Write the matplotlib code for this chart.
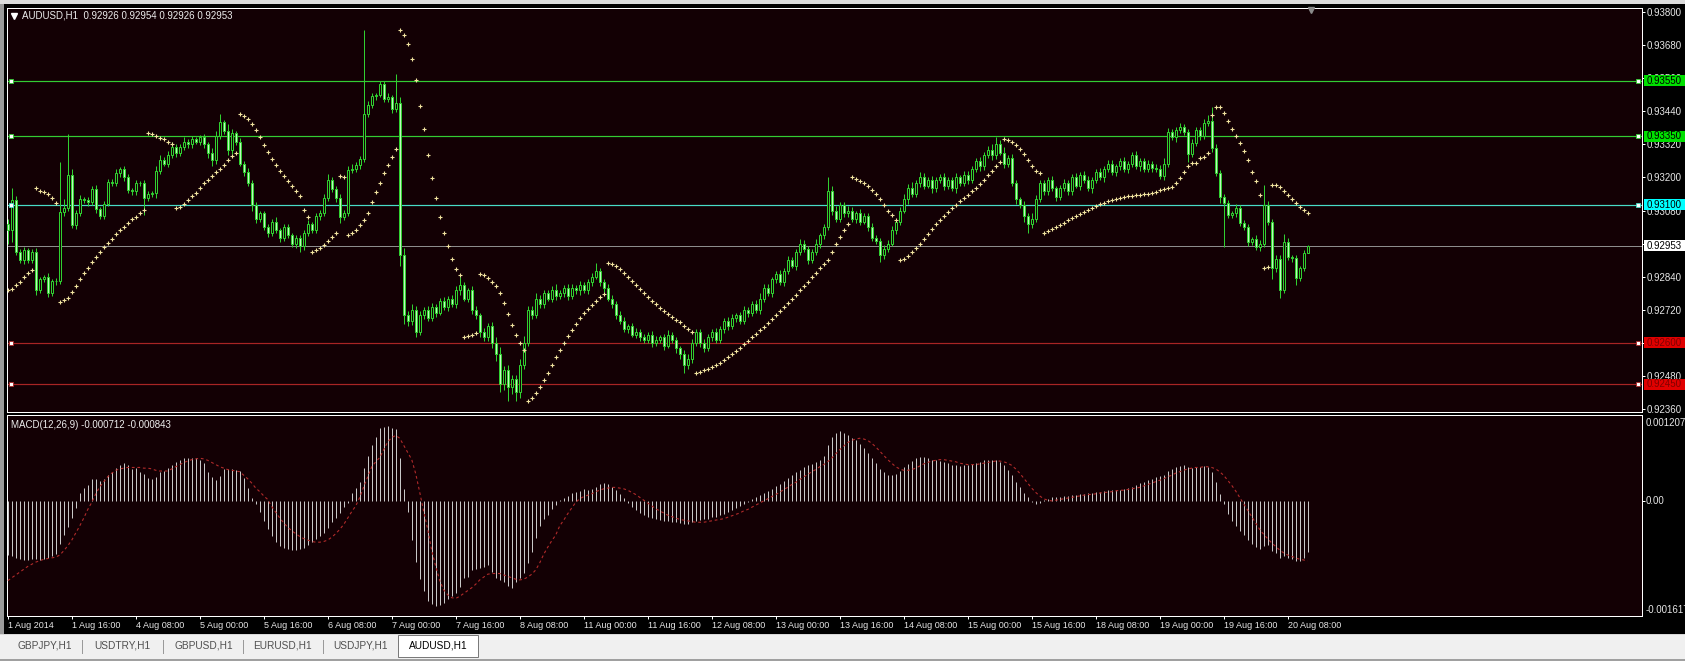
import numpy as np
import matplotlib
matplotlib.use('Agg')
import matplotlib.pyplot as plt
from matplotlib.patches import Rectangle
from matplotlib.lines import Line2D

plt.rcParams['font.family'] = ['Liberation Sans', 'DejaVu Sans']

# ---- data (AUDUSD H1, 1 Aug 2014 - 20 Aug 2014) ----
first_open = 0.93030
close = [
    0.93009, 0.93118, 0.92929, 0.92900, 0.92935, 0.92900, 0.92930, 0.92792, 0.92830, 0.92840,
    0.92780, 0.92825, 0.92823, 0.93075, 0.93090, 0.93209, 0.93027, 0.93071, 0.93122, 0.93118,
    0.93110, 0.93158, 0.93085, 0.93060, 0.93105, 0.93183, 0.93180, 0.93216, 0.93230, 0.93200,
    0.93155, 0.93150, 0.93180, 0.93178, 0.93125, 0.93140, 0.93142, 0.93225, 0.93263, 0.93250,
    0.93280, 0.93310, 0.93290, 0.93310, 0.93330, 0.93320, 0.93340, 0.93330, 0.93345, 0.93320,
    0.93290, 0.93265, 0.93350, 0.93400, 0.93370, 0.93300, 0.93360, 0.93330, 0.93250, 0.93220,
    0.93180, 0.93100, 0.93050, 0.93070, 0.93020, 0.93000, 0.93040, 0.93010, 0.92980, 0.93020,
    0.92990, 0.92960, 0.92980, 0.92950, 0.93000, 0.93030, 0.93010, 0.93060, 0.93071, 0.93125,
    0.93191, 0.93158, 0.93125, 0.93056, 0.93071, 0.93227, 0.93230, 0.93245, 0.93267, 0.93430,
    0.93463, 0.93495, 0.93500, 0.93539, 0.93484, 0.93490, 0.93448, 0.93470, 0.92920, 0.92700,
    0.92680, 0.92720, 0.92640, 0.92700, 0.92720, 0.92690, 0.92730, 0.92710, 0.92750, 0.92730,
    0.92760, 0.92740, 0.92790, 0.92810, 0.92760, 0.92790, 0.92720, 0.92700, 0.92640, 0.92620,
    0.92660, 0.92600, 0.92560, 0.92450, 0.92500, 0.92440, 0.92470, 0.92420, 0.92520, 0.92600,
    0.92720, 0.92700, 0.92760, 0.92740, 0.92780, 0.92760, 0.92790, 0.92770, 0.92780, 0.92800,
    0.92770, 0.92800, 0.92790, 0.92810, 0.92790, 0.92820, 0.92840, 0.92860, 0.92820, 0.92800,
    0.92760, 0.92740, 0.92700, 0.92680, 0.92650, 0.92660, 0.92630, 0.92640, 0.92620, 0.92610,
    0.92630, 0.92600, 0.92610, 0.92620, 0.92590, 0.92630, 0.92610, 0.92580, 0.92560, 0.92520,
    0.92540, 0.92600, 0.92640, 0.92600, 0.92580, 0.92620, 0.92640, 0.92610, 0.92650, 0.92680,
    0.92660, 0.92690, 0.92700, 0.92680, 0.92720, 0.92710, 0.92740, 0.92720, 0.92760, 0.92800,
    0.92780, 0.92830, 0.92850, 0.92820, 0.92860, 0.92900, 0.92880, 0.92930, 0.92960, 0.92940,
    0.92900, 0.92930, 0.92960, 0.92990, 0.93020, 0.93150, 0.93080, 0.93050, 0.93100, 0.93070,
    0.93080, 0.93050, 0.93070, 0.93040, 0.93060, 0.93020, 0.92980, 0.92970, 0.92920, 0.92940,
    0.92960, 0.93010, 0.93040, 0.93080, 0.93120, 0.93160, 0.93140, 0.93180, 0.93200, 0.93170,
    0.93190, 0.93160, 0.93190, 0.93200, 0.93170, 0.93190, 0.93160, 0.93200, 0.93180, 0.93210,
    0.93190, 0.93230, 0.93260, 0.93240, 0.93280, 0.93300, 0.93280, 0.93320, 0.93290, 0.93250,
    0.93270, 0.93180, 0.93120, 0.93100, 0.93060, 0.93030, 0.93050, 0.93120, 0.93180, 0.93150,
    0.93190, 0.93160, 0.93130, 0.93160, 0.93180, 0.93150, 0.93200, 0.93170, 0.93210, 0.93190,
    0.93160, 0.93190, 0.93220, 0.93200, 0.93230, 0.93250, 0.93220, 0.93240, 0.93260, 0.93230,
    0.93250, 0.93280, 0.93240, 0.93260, 0.93230, 0.93250, 0.93235, 0.93230, 0.93205, 0.93249,
    0.93365, 0.93345, 0.93372, 0.93383, 0.93365, 0.93285, 0.93325, 0.93372, 0.93350, 0.93397,
    0.93405, 0.93307, 0.93216, 0.93129, 0.93107, 0.93064, 0.93070, 0.93089, 0.93035, 0.93020,
    0.92966, 0.92975, 0.92948, 0.92960, 0.93100, 0.93038, 0.92871, 0.92905, 0.92792, 0.92966,
    0.92910, 0.92908, 0.92835, 0.92870, 0.92926, 0.92953,
]
# wick lengths beyond the candle body, in points (0.00001)
wick_up = [
    20, 44, 15, 10, 12, 8, 10, 15, 10, 6, 12, 8, 10, 181, 30, 147, 20, 10, 15, 8,
    10, 12, 15, 8, 10, 12, 10, 15, 8, 10, 12, 8, 10, 6, 12, 10, 8, 15, 20, 12,
    15, 20, 10, 12, 15, 10, 12, 8, 10, 12, 10, 15, 20, 30, 10, 25, 15, 10, 12, 10,
    15, 10, 12, 8, 10, 12, 10, 15, 8, 10, 12, 8, 10, 12, 10, 15, 8, 10, 12, 15,
    20, 10, 12, 15, 10, 15, 20, 10, 12, 305, 15, 10, 8, 12, 10, 15, 10, 105, 20, 25,
    15, 20, 12, 15, 10, 12, 15, 10, 12, 15, 10, 12, 15, 30, 12, 10, 15, 12, 10, 15,
    12, 15, 20, 25, 15, 20, 15, 12, 20, 25, 15, 12, 20, 15, 10, 12, 15, 25, 12, 10,
    15, 12, 10, 15, 12, 10, 15, 30, 12, 10, 15, 12, 10, 15, 12, 10, 12, 15, 10, 12,
    10, 12, 15, 10, 12, 15, 10, 12, 10, 15, 20, 15, 12, 10, 15, 12, 10, 15, 12, 10,
    12, 15, 10, 12, 15, 10, 12, 15, 20, 12, 15, 10, 12, 15, 10, 15, 12, 10, 15, 12,
    10, 12, 15, 10, 12, 50, 20, 15, 12, 10, 15, 12, 10, 15, 12, 10, 15, 12, 10, 15,
    12, 15, 10, 12, 20, 15, 25, 12, 20, 15, 12, 15, 10, 12, 15, 10, 12, 15, 10, 12,
    15, 12, 10, 15, 12, 15, 20, 25, 15, 20, 10, 15, 12, 10, 15, 12, 20, 15, 12, 10,
    12, 15, 10, 12, 15, 10, 12, 15, 10, 12, 15, 10, 12, 15, 10, 12, 15, 10, 12, 15,
    10, 12, 15, 10, 12, 15, 10, 12, 15, 20, 15, 12, 10, 15, 12, 10, 15, 12, 10, 15,
    20, 50, 15, 12, 10, 12, 10, 15, 12, 10, 12, 10, 15, 12, 72, 15, 10, 12, 15, 29,
    15, 10, 12, 10, 12, 1,
]
wick_dn = [
    50, 43, 12, 10, 15, 10, 12, 20, 12, 8, 15, 10, 12, 10, 15, 12, 10, 15, 12, 10,
    12, 10, 15, 12, 10, 8, 12, 10, 15, 12, 10, 12, 15, 10, 60, 12, 10, 15, 12, 10,
    12, 10, 15, 12, 10, 15, 12, 10, 12, 15, 20, 25, 15, 10, 12, 20, 15, 12, 10, 15,
    12, 20, 15, 12, 10, 15, 12, 10, 15, 12, 10, 12, 15, 20, 15, 12, 10, 12, 15, 10,
    12, 10, 15, 20, 12, 10, 12, 10, 15, 12, 10, 12, 15, 10, 12, 10, 15, 12, 40, 30,
    20, 15, 20, 12, 15, 10, 12, 15, 10, 12, 15, 10, 12, 15, 10, 12, 15, 12, 20, 15,
    12, 20, 25, 30, 20, 50, 25, 30, 20, 15, 12, 15, 10, 12, 15, 10, 12, 15, 10, 12,
    15, 10, 12, 15, 10, 12, 15, 10, 12, 15, 10, 12, 15, 10, 12, 15, 10, 12, 15, 10,
    12, 15, 10, 12, 15, 10, 12, 15, 20, 30, 15, 12, 10, 15, 12, 10, 15, 12, 10, 15,
    12, 10, 15, 12, 10, 15, 12, 10, 15, 12, 10, 15, 12, 10, 15, 12, 10, 15, 12, 10,
    15, 12, 10, 15, 12, 10, 15, 12, 10, 15, 12, 10, 15, 12, 10, 15, 12, 10, 25, 15,
    12, 10, 15, 12, 10, 15, 12, 10, 15, 12, 10, 15, 12, 10, 15, 12, 10, 15, 12, 10,
    15, 12, 10, 15, 12, 10, 15, 12, 10, 15, 12, 10, 15, 12, 20, 30, 15, 12, 10, 15,
    12, 10, 15, 12, 10, 15, 12, 10, 15, 12, 10, 15, 12, 10, 15, 12, 10, 15, 12, 10,
    15, 12, 10, 15, 12, 10, 15, 12, 10, 15, 12, 10, 15, 12, 10, 30, 12, 10, 15, 12,
    10, 15, 12, 20, 161, 12, 10, 15, 12, 10, 15, 12, 10, 15, 12, 10, 40, 15, 30, 12,
    10, 15, 25, 12, 10, 0,
]
sar = [
    0.92792, 0.92795, 0.92810, 0.92821, 0.92839, 0.92853, 0.92864, 0.93161, 0.93152, 0.93146,
    0.93139, 0.93124, 0.93108, 0.92749, 0.92754, 0.92761, 0.92785, 0.92807, 0.92830, 0.92852,
    0.92870, 0.92892, 0.92910, 0.92928, 0.92947, 0.92961, 0.92976, 0.92994, 0.93008, 0.93019,
    0.93034, 0.93048, 0.93058, 0.93070, 0.93081, 0.93360, 0.93356, 0.93350, 0.93344, 0.93338,
    0.93330, 0.93320, 0.93088, 0.93094, 0.93102, 0.93117, 0.93133, 0.93145, 0.93161, 0.93178,
    0.93192, 0.93205, 0.93218, 0.93230, 0.93245, 0.93262, 0.93278, 0.93290, 0.93430, 0.93424,
    0.93412, 0.93395, 0.93372, 0.93345, 0.93318, 0.93292, 0.93268, 0.93245, 0.93224, 0.93204,
    0.93186, 0.93168, 0.93150, 0.93132, 0.93082, 0.93058, 0.92930, 0.92936, 0.92945, 0.92955,
    0.92968, 0.92985, 0.93000, 0.93205, 0.93200, 0.92990, 0.92998, 0.93010, 0.93028, 0.93045,
    0.93072, 0.93110, 0.93146, 0.93181, 0.93215, 0.93245, 0.93274, 0.93302, 0.93735, 0.93717,
    0.93684, 0.93628, 0.93553, 0.93459, 0.93375, 0.93281, 0.93197, 0.93124, 0.93058, 0.93000,
    0.92950, 0.92905, 0.92868, 0.92845, 0.92620, 0.92625, 0.92630, 0.92636, 0.92850, 0.92845,
    0.92835, 0.92822, 0.92805, 0.92780, 0.92745, 0.92705, 0.92665, 0.92630, 0.92600, 0.92575,
    0.92390, 0.92400, 0.92418, 0.92440, 0.92465, 0.92492, 0.92520, 0.92548, 0.92575, 0.92600,
    0.92625, 0.92648, 0.92670, 0.92690, 0.92708, 0.92724, 0.92738, 0.92752, 0.92765, 0.92776,
    0.92890, 0.92886, 0.92878, 0.92868, 0.92855, 0.92840, 0.92825, 0.92810, 0.92795, 0.92780,
    0.92766, 0.92752, 0.92740, 0.92728, 0.92716, 0.92705, 0.92694, 0.92684, 0.92674, 0.92662,
    0.92650, 0.92640, 0.92490, 0.92494, 0.92500, 0.92506, 0.92513, 0.92520, 0.92528, 0.92537,
    0.92547, 0.92558, 0.92570, 0.92583, 0.92597, 0.92608, 0.92620, 0.92632, 0.92645, 0.92658,
    0.92672, 0.92686, 0.92700, 0.92715, 0.92730, 0.92745, 0.92760, 0.92775, 0.92790, 0.92806,
    0.92822, 0.92838, 0.92854, 0.92870, 0.92886, 0.92902, 0.92930, 0.92958, 0.92984, 0.93008,
    0.93030, 0.93200, 0.93195, 0.93188, 0.93180, 0.93170, 0.93156, 0.93140, 0.93122, 0.93100,
    0.93080, 0.93062, 0.93045, 0.92900, 0.92905, 0.92915, 0.92928, 0.92943, 0.92960, 0.92978,
    0.92996, 0.93014, 0.93030, 0.93046, 0.93060, 0.93074, 0.93088, 0.93101, 0.93114, 0.93126,
    0.93138, 0.93150, 0.93163, 0.93177, 0.93192, 0.93208, 0.93224, 0.93240, 0.93255, 0.93340,
    0.93337, 0.93330, 0.93318, 0.93302, 0.93284, 0.93264, 0.93243, 0.93222, 0.93215, 0.93000,
    0.93006, 0.93013, 0.93020, 0.93028, 0.93036, 0.93044, 0.93052, 0.93060, 0.93068, 0.93075,
    0.93082, 0.93089, 0.93096, 0.93102, 0.93108, 0.93113, 0.93118, 0.93122, 0.93126, 0.93129,
    0.93132, 0.93134, 0.93136, 0.93138, 0.93139, 0.93140, 0.93142, 0.93148, 0.93154, 0.93158,
    0.93160, 0.93164, 0.93179, 0.93197, 0.93219, 0.93241, 0.93251, 0.93251, 0.93269, 0.93273,
    0.93287, 0.93426, 0.93454, 0.93454, 0.93433, 0.93404, 0.93374, 0.93350, 0.93324, 0.93295,
    0.93262, 0.93219, 0.93186, 0.93135, 0.92870, 0.92874, 0.93171, 0.93171, 0.93164, 0.93150,
    0.93135, 0.93121, 0.93106, 0.93094, 0.93081, 0.93070,
]
macd_hist = [
    -0.00076, -0.00078, -0.00080, -0.00082, -0.00083, -0.00083, -0.00082, -0.00082, -0.00083, -0.00082,
    -0.00080, -0.00078, -0.00074, -0.00060, -0.00048, -0.00036, -0.00024, -0.00010, 0.000105, 0.000176,
    0.000222, 0.000307, 0.000307, 0.000279, 0.000307, 0.000363, 0.000410, 0.000466, 0.000504, 0.000527,
    0.000504, 0.000447, 0.000457, 0.000410, 0.000372, 0.000326, 0.000307, 0.000340, 0.000400, 0.000419,
    0.000466, 0.000504, 0.000550, 0.000574, 0.000597, 0.000606, 0.000606, 0.000597, 0.000574, 0.000527,
    0.000410, 0.000340, 0.000293, 0.000354, 0.000447, 0.000447, 0.000447, 0.000433, 0.000419, 0.000316,
    0.000185, 0.000045, -0.00005, -0.00015, -0.00028, -0.00040, -0.00050, -0.00058, -0.00063, -0.00066,
    -0.00068, -0.00069, -0.00069, -0.00068, -0.00066, -0.00062, -0.00058, -0.00054, -0.00050, -0.00045,
    -0.00038, -0.00030, -0.00024, -0.00017, -0.00008, -0.00003, 0.000108, 0.000187, 0.000272, 0.000468,
    0.000637, 0.000787, 0.000904, 0.001021, 0.001044, 0.001058, 0.001030, 0.001012, 0.000599, 0.000169,
    -0.000150, -0.000548, -0.000852, -0.001096, -0.001265, -0.00140, -0.00145, -0.00147, -0.00146, -0.00143,
    -0.00138, -0.00134, -0.001297, -0.001204, -0.001086, -0.001063, -0.000969, -0.000955, -0.000946, -0.000922,
    -0.000899, -0.000993, -0.001086, -0.001110, -0.001133, -0.001189, -0.001218, -0.001133, -0.001086, -0.001016,
    -0.000876, -0.000712, -0.000524, -0.000351, -0.000253, -0.000197, -0.000112, -0.000056, 0.00001, 0.000037,
    0.000075, 0.000108, 0.000131, 0.000140, 0.000169, 0.000155, 0.000169, 0.000201, 0.000234, 0.00025,
    0.00024, 0.00020, 0.00016, 0.00010, 0.00004, -0.00003, -0.00008, -0.00013, -0.00017, -0.00020,
    -0.00022, -0.00024, -0.00026, -0.00027, -0.00028, -0.00028, -0.00029, -0.00030, -0.00031, -0.00032,
    -0.00032, -0.00030, -0.00028, -0.00027, -0.00026, -0.00025, -0.00023, -0.00022, -0.00020, -0.00018,
    -0.00016, -0.00013, -0.00010, -0.00007, -0.00004, -0.00002, 0.00002, 0.00005, 0.00008, 0.00011,
    0.00014, 0.00017, 0.00021, 0.00024, 0.00028, 0.00032, 0.00036, 0.00040, 0.00044, 0.00047,
    0.00050, 0.00052, 0.00055, 0.00058, 0.00063, 0.00078, 0.00090, 0.00096, 0.00098, 0.00096,
    0.00093, 0.00089, 0.00085, 0.00080, 0.00075, 0.00068, 0.00060, 0.00053, 0.00045, 0.00040,
    0.00037, 0.00036, 0.00038, 0.00042, 0.00047, 0.00052, 0.00056, 0.00060, 0.00062, 0.00061,
    0.00060, 0.00058, 0.00057, 0.00056, 0.00054, 0.00053, 0.00051, 0.00050, 0.00049, 0.00050,
    0.00051, 0.00052, 0.00053, 0.00055, 0.00057, 0.00058, 0.00058, 0.00057, 0.00054, 0.00050,
    0.00044, 0.00036, 0.00027, 0.00019, 0.00011, 0.00005, -0.00001, -0.00004, -0.00003, 0.00001,
    0.00003, 0.00005, 0.00005, 0.00006, 0.00007, 0.00007, 0.00008, 0.00009, 0.00010, 0.00010,
    0.00011, 0.00011, 0.00012, 0.00013, 0.00014, 0.00015, 0.00015, 0.00016, 0.00016, 0.00017,
    0.00018, 0.00020, 0.00022, 0.00025, 0.00027, 0.00029, 0.00031, 0.00033, 0.00035, 0.00037,
    0.00042, 0.00045, 0.00047, 0.00049, 0.00050, 0.00047, 0.00046, 0.00047, 0.00048, 0.00049,
    0.00048, 0.00040, 0.00026, 0.00010, -0.00005, -0.00018, -0.00028, -0.00035, -0.00042, -0.00048,
    -0.00055, -0.00060, -0.00065, -0.00068, -0.00063, -0.00062, -0.00070, -0.00073, -0.00080, -0.00078,
    -0.00080, -0.00081, -0.00084, -0.00085, -0.00080, -0.000712,
]
macd_signal = [
    -0.00112, -0.00108, -0.00104, -0.00100, -0.00096, -0.00092, -0.00089, -0.00086, -0.00084, -0.00082,
    -0.00081, -0.00080, -0.00079, -0.00076, -0.00070, -0.00063, -0.00055, -0.00045, -0.00035, -0.00024,
    -0.00012, -0.00002, 0.00010, 0.00020, 0.00027, 0.00034, 0.00039, 0.00043, 0.00045, 0.00046,
    0.00047, 0.00047, 0.00047, 0.00047, 0.00046, 0.00046, 0.00045, 0.00043, 0.00042, 0.00042,
    0.00042, 0.00045, 0.00048, 0.00051, 0.00054, 0.00056, 0.00058, 0.00059, 0.00060, 0.00059,
    0.00057, 0.00054, 0.00051, 0.00048, 0.00046, 0.00044, 0.00043, 0.00042, 0.00041, 0.00036,
    0.00031, 0.00025, 0.00018, 0.00013, 0.00007, 0.00002, -0.00008, -0.00016, -0.00024, -0.00031,
    -0.00037, -0.00042, -0.00046, -0.00050, -0.00053, -0.00055, -0.00057, -0.00058, -0.00058, -0.00057,
    -0.00055, -0.00051, -0.00046, -0.00040, -0.00033, -0.00024, -0.00015, -0.00007, 0.00005, 0.00020,
    0.00034, 0.00048, 0.00055, 0.00061, 0.00072, 0.00083, 0.00089, 0.00092, 0.00088, 0.00078,
    0.00068, 0.00058, 0.00038, 0.00012, -0.00015, -0.00040, -0.00070, -0.00092, -0.00112, -0.00125,
    -0.00132, -0.00136, -0.00137, -0.00134, -0.00130, -0.00126, -0.00122, -0.00117, -0.00111, -0.00107,
    -0.00103, -0.00102, -0.00102, -0.00102, -0.00104, -0.00106, -0.00108, -0.00110, -0.00111, -0.00110,
    -0.00107, -0.00103, -0.00097, -0.00087, -0.00075, -0.00065, -0.00056, -0.00048, -0.00035, -0.00027,
    -0.00018, -0.00010, -0.00002, 0.00003, 0.00006, 0.00008, 0.00010, 0.00013, 0.00015, 0.00017,
    0.00018, 0.00019, 0.00019, 0.00018, 0.00017, 0.00015, 0.00012, 0.00009, 0.00005, 0.00001,
    -0.00003, -0.00007, -0.00011, -0.00014, -0.00017, -0.00020, -0.00022, -0.00024, -0.00026, -0.00027,
    -0.00028, -0.00029, -0.00030, -0.00030, -0.00030, -0.00029, -0.00028, -0.00027, -0.00026, -0.00025,
    -0.00023, -0.00021, -0.00019, -0.00017, -0.00014, -0.00012, -0.00009, -0.00006, -0.00003, 0.00000,
    0.00003, 0.00006, 0.00009, 0.00012, 0.00016, 0.00019, 0.00023, 0.00026, 0.00030, 0.00034,
    0.00037, 0.00041, 0.00044, 0.00048, 0.00051, 0.00055, 0.00060, 0.00066, 0.00072, 0.00077,
    0.00082, 0.00085, 0.00087, 0.00088, 0.00087, 0.00085, 0.00081, 0.00076, 0.00070, 0.00064,
    0.00058, 0.00053, 0.00048, 0.00045, 0.00043, 0.00043, 0.00044, 0.00046, 0.00049, 0.00052,
    0.00054, 0.00056, 0.00057, 0.00058, 0.00058, 0.00057, 0.00056, 0.00055, 0.00053, 0.00052,
    0.00051, 0.00051, 0.00051, 0.00052, 0.00053, 0.00054, 0.00055, 0.00056, 0.00056, 0.00055,
    0.00053, 0.00050, 0.00045, 0.00039, 0.00032, 0.00025, 0.00018, 0.00012, 0.00007, 0.00003,
    0.00001, 0.00000, 0.00001, 0.00002, 0.00003, 0.00004, 0.00005, 0.00006, 0.00007, 0.00008,
    0.00009, 0.00009, 0.00010, 0.00011, 0.00012, 0.00012, 0.00013, 0.00014, 0.00015, 0.00015,
    0.00016, 0.00017, 0.00018, 0.00019, 0.00021, 0.00023, 0.00025, 0.00027, 0.00029, 0.00031,
    0.00034, 0.00036, 0.00039, 0.00041, 0.00043, 0.00045, 0.00046, 0.00047, 0.00047, 0.00048,
    0.00048, 0.00047, 0.00045, 0.00041, 0.00036, 0.00029, 0.00022, 0.00014, 0.00005, -0.00004,
    -0.00013, -0.00022, -0.00031, -0.00040, -0.00047, -0.00053, -0.00059, -0.00064, -0.00069, -0.00073,
    -0.00076, -0.00078, -0.00080, -0.00082, -0.00083, -0.000843,
]

x_tick_bars = [0, 16, 32, 48, 64, 80, 96, 112, 128, 144, 160, 176, 192, 208, 224, 240, 256, 272, 288, 304, 320]
x_tick_labels = ['1 Aug 2014', '1 Aug 16:00', '4 Aug 08:00', '5 Aug 00:00', '5 Aug 16:00', '6 Aug 08:00',
                 '7 Aug 00:00', '7 Aug 16:00', '8 Aug 08:00', '11 Aug 00:00', '11 Aug 16:00', '12 Aug 08:00',
                 '13 Aug 00:00', '13 Aug 16:00', '14 Aug 08:00', '15 Aug 00:00', '15 Aug 16:00', '18 Aug 08:00',
                 '19 Aug 00:00', '19 Aug 16:00', '20 Aug 08:00']
price_ticks = [0.92360, 0.92480, 0.92600, 0.92720, 0.92840, 0.92960, 0.93080, 0.93200,
               0.93320, 0.93440, 0.93560, 0.93680, 0.93800]

levels = [0.93550, 0.93350, 0.93100, 0.92600, 0.92450]
level_line_colors = ['#33cc33', '#33cc33', '#48dcc8', '#a82424', '#a82424']
level_box_colors = ['#00e000', '#00e000', '#00ffff', '#e00000', '#e00000']
level_text_colors = ['black', 'black', 'black', '#800000', '#800000']
bid = 0.92953

header = 'AUDUSD,H1  0.92926 0.92954 0.92926 0.92953'
macd_header = 'MACD(12,26,9) -0.000712 -0.000843'
tabs = ['GBPJPY,H1', 'USDTRY,H1', 'GBPUSD,H1', 'EURUSD,H1', 'USDJPY,H1', 'AUDUSD,H1']

# ---- styling ----
W, H = 1685, 661
BG = '#130004'
GREEN = '#30d030'
BEAR_FILL = '#bff7bf'
AXC = '#e6e6e6'
PX = 0.72  # one pixel in points

def fx(px):
    return px / W

def fy(py):
    return 1 - py / H

fig = plt.figure(figsize=(W / 100, H / 100), dpi=100, facecolor='black')

# window chrome around the chart
fig.patches.append(Rectangle((0, fy(4)), 1, 4 / H, transform=fig.transFigure, fc='#dcdcdc', ec='none'))
fig.patches.append(Rectangle((0, 0), fx(4), fy(4), transform=fig.transFigure, fc='#9a9a9a', ec='none'))
fig.patches.append(Rectangle((0, 0), 1, (H - 634) / H, transform=fig.transFigure, fc='#f0f0f0', ec='none'))
fig.add_artist(Line2D([0, 1], [fy(633.5)] * 2, transform=fig.transFigure, color='#d8d8d8', lw=PX))
fig.add_artist(Line2D([0, 1], [fy(659.5)] * 2, transform=fig.transFigure, color='#a0a0a0', lw=2 * PX))

ax = fig.add_axes([fx(7), fy(412), fx(1642 - 7), (412 - 8) / H], facecolor=BG)
ax2 = fig.add_axes([fx(7), fy(616), fx(1642 - 7), (616 - 415) / H], facecolor=BG)

n = len(close)
x = np.arange(n)
c = np.array(close)
o = np.r_[first_open, c[:-1]]
top = np.maximum(o, c)
bot = np.minimum(o, c)
hi = top + np.array(wick_up) * 1e-5
lo = bot - np.array(wick_dn) * 1e-5
bull = c >= o
body = np.maximum(top - bot, 0.00001)

ax.vlines(x, lo, hi, color=GREEN, lw=PX, zorder=3)
ax.bar(x[bull], body[bull], bottom=bot[bull], width=0.5, facecolor=BG, edgecolor=GREEN, lw=PX, zorder=4)
ax.bar(x[~bull], body[~bull], bottom=bot[~bull], width=0.5, facecolor=BEAR_FILL, edgecolor=GREEN, lw=PX, zorder=4)

ax.plot(x, sar, ls='none', marker='+', ms=3.2, mew=0.8, color='#f2e4a0', zorder=5)

ytr = ax.get_yaxis_transform()
ax.axhline(bid, color='#8c8c8c', lw=PX, zorder=2)
for lvl, lc in zip(levels, level_line_colors):
    ax.axhline(lvl, color=lc, lw=PX * 1.2, zorder=2)
    ax.plot([0.0025, 0.9975], [lvl, lvl], transform=ytr, ls='none', marker='s', ms=3.3,
            mfc='white', mec=lc, mew=0.6, clip_on=False, zorder=6)

ax.set_xlim(-0.2, 408.6)
ax.set_ylim(0.923492, 0.938145)
ax.set_yticks(price_ticks)
ax.set_yticklabels(['%.5f' % t for t in price_ticks])
ax.yaxis.tick_right()
ax.tick_params(axis='y', colors='white', labelcolor=AXC, direction='out', length=3 * PX,
               width=PX, pad=2 * PX, labelsize=7)
ax.tick_params(axis='x', bottom=False, labelbottom=False)

# price labels on the right axis
dpp = (0.938145 - 0.923492) / 404.0
box_h = 11 * dpp
box_w = 43 / 1635
for lvl, bc, tc in zip(levels + [bid], level_box_colors + ['white'], level_text_colors + ['black']):
    ax.add_patch(Rectangle((1 + 2 / 1635, lvl - box_h / 2), box_w, box_h, transform=ytr,
                           fc=bc, ec='none', clip_on=False, zorder=20))
    ax.text(1 + 5 / 1635, lvl, '%.5f' % lvl, transform=ytr, fontsize=7, color=tc,
            va='center', ha='left', clip_on=False, zorder=21)

# chart shift marker
ax.plot([1311 / 1635 - 7 / 1635], [0.994], transform=ax.transAxes, marker='v', ms=4.5,
        color='#8a8a8a', clip_on=False, zorder=10)

# ---- MACD panel ----
ax2.vlines(x, 0, macd_hist, color='#c8c8c8', lw=PX, zorder=3)
ax2.plot(x, macd_signal, color='#b02a2a', lw=0.8, ls=(0, (2.5, 2.5)), zorder=4)
ax2.set_xlim(-0.2, 408.6)
ax2.set_ylim(-0.001617, 0.001207)
ax2.set_yticks([0])
ax2.set_yticklabels([''])
ax2.yaxis.tick_right()
ax2.tick_params(axis='y', colors='white', direction='out', length=3 * PX, width=PX)
ytr2 = ax2.get_yaxis_transform()
ax2.text(1 + 4 / 1635, 0, '0.00', transform=ytr2, fontsize=7, color=AXC, va='center', ha='left')
ax2.text(1 + 4 / 1635, 0.962, '0.001207', transform=ax2.transAxes, fontsize=7, color=AXC,
         va='center', ha='left')
ax2.text(1 + 4 / 1635, 0.032, '-0.001617', transform=ax2.transAxes, fontsize=7, color=AXC,
         va='center', ha='left', clip_on=False)

ax2.set_xticks(x_tick_bars)
ax2.set_xticklabels(x_tick_labels, ha='left')
ax2.tick_params(axis='x', colors='white', labelcolor=AXC, direction='out', length=3 * PX,
                width=PX, pad=1.5 * PX, labelsize=6.5)

for a in (ax, ax2):
    for s in a.spines.values():
        s.set_color('white')
        s.set_linewidth(PX)

# ---- indicator captions ----
ax.plot([13 / 1635 - 6 / 1635], [1 - 8 / 404], transform=ax.transAxes, marker='v', ms=4,
        color='white', clip_on=False)
fig.text(fx(22), fy(16), header, fontsize=7, color='#ececec', va='center', ha='left')
fig.text(fx(11), fy(425), macd_header, fontsize=7, color='#ececec', va='center', ha='left')

# ---- symbol tabs ----
tab_x = [17, 94, 174, 253, 333, 409]
sep_x = [82, 163, 243, 323]
fig.patches.append(Rectangle((fx(398), fy(657)), fx(478 - 398), (657 - 635) / H,
                             transform=fig.transFigure, fc='white', ec='#7a7a7a', lw=PX))
for sx in sep_x:
    fig.add_artist(Line2D([fx(sx)] * 2, [fy(640), fy(653)], transform=fig.transFigure,
                          color='#9a9a9a', lw=PX))
for tx, name in zip(tab_x, tabs):
    col = 'black' if name == 'AUDUSD,H1' else '#505050'
    fig.text(fx(tx), fy(646), name, fontsize=7.3, color=col, va='center', ha='left')

fig.savefig('out.png', dpi=100, facecolor=fig.get_facecolor())
